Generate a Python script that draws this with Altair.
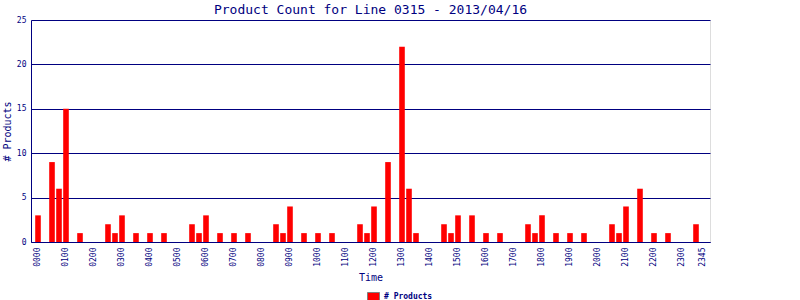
import altair as alt
import pandas as pd

times = [
    "0000", "0015", "0030", "0045", "0100", "0115", "0130", "0145",
    "0200", "0215", "0230", "0245", "0300", "0315", "0330", "0345",
    "0400", "0415", "0430", "0445", "0500", "0515", "0530", "0545",
    "0600", "0615", "0630", "0645", "0700", "0715", "0730", "0745",
    "0800", "0815", "0830", "0845", "0900", "0915", "0930", "0945",
    "1000", "1015", "1030", "1045", "1100", "1115", "1130", "1145",
    "1200", "1215", "1230", "1245", "1300", "1315", "1330", "1345",
    "1400", "1415", "1430", "1445", "1500", "1515", "1530", "1545",
    "1600", "1615", "1630", "1645", "1700", "1715", "1730", "1745",
    "1800", "1815", "1830", "1845", "1900", "1915", "1930", "1945",
    "2000", "2015", "2030", "2045", "2100", "2115", "2130", "2145",
    "2200", "2215", "2230", "2245", "2300", "2315", "2330", "2345",
]

counts = [
    3, 0, 9, 6, 15, 0, 1, 0,
    0, 0, 2, 1, 3, 0, 1, 0,
    1, 0, 1, 0, 0, 0, 2, 1,
    3, 0, 1, 0, 1, 0, 1, 0,
    0, 0, 2, 1, 4, 0, 1, 0,
    1, 0, 1, 0, 0, 0, 2, 1,
    4, 0, 9, 0, 22, 6, 1, 0,
    0, 0, 2, 1, 3, 0, 3, 0,
    1, 0, 1, 0, 0, 0, 2, 1,
    3, 0, 1, 0, 1, 0, 1, 0,
    0, 0, 2, 1, 4, 0, 6, 0,
    1, 0, 1, 0, 0, 0, 2, 0,
]

tick_labels = [
    "0000", "0100", "0200", "0300", "0400", "0500", "0600", "0700",
    "0800", "0900", "1000", "1100", "1200", "1300", "1400", "1500",
    "1600", "1700", "1800", "1900", "2000", "2100", "2200", "2300", "2345",
]

y_ticks = [0, 5, 10, 15, 20, 25]
series_name = "# Products"

df = pd.DataFrame({"time": times, "count": counts, "series": series_name})

navy = "#000080"
font = "DejaVu Sans Mono"

chart = alt.Chart(
    df,
    title=alt.TitleParams(
        "Product Count for Line 0315 - 2013/04/16",
        font=font, fontSize=13, fontWeight="normal", color=navy,
        anchor="middle", offset=-1,
    ),
).mark_bar().encode(
    x=alt.X(
        "time:N", sort=times,
        scale=alt.Scale(paddingInner=0.2, paddingOuter=0.6),
        axis=alt.Axis(
            values=tick_labels, labelAngle=270, ticks=False, labelPadding=5,
            labelOverlap=False, labelFont=font, labelFontSize=8, labelColor=navy,
            title="Time", titleFont=font, titleFontSize=10, titleFontWeight="normal",
            titleColor=navy, titlePadding=6, domainColor=navy, grid=False,
        ),
    ),
    y=alt.Y(
        "count:Q",
        scale=alt.Scale(domain=[0, 25], nice=False),
        axis=alt.Axis(
            values=y_ticks, ticks=False, labelPadding=5, labelFont=font,
            labelFontSize=8, labelColor=navy, grid=True, gridColor=navy,
            gridOpacity=1, gridWidth=1, domainColor=navy,
            title="# Products", titleFont=font, titleFontSize=10,
            titleFontWeight="normal", titleColor=navy, titlePadding=4,
        ),
    ),
    color=alt.Color(
        "series:N",
        scale=alt.Scale(domain=[series_name], range=["#ff0000"]),
        legend=alt.Legend(
            title=None, orient="none", legendX=336, legendY=270, padding=0,
            symbolType="M-1,-0.667H1V0.667H-1Z", symbolSize=144,
            symbolStrokeColor="#808080", symbolStrokeWidth=1, symbolOpacity=1,
            labelFont=font, labelFontSize=8, labelFontWeight="bold",
            labelColor=navy, labelOffset=4,
        ),
    ),
).properties(
    width=679, height=222,
    padding={"left": 31, "top": 20, "right": 90, "bottom": 58},
    autosize=alt.AutoSizeParams(type="none"),
).configure_view(
    stroke=navy, strokeWidth=1,
).configure(background="white")

chart.save("out.html", embed_options={"renderer": "svg", "actions": False})
